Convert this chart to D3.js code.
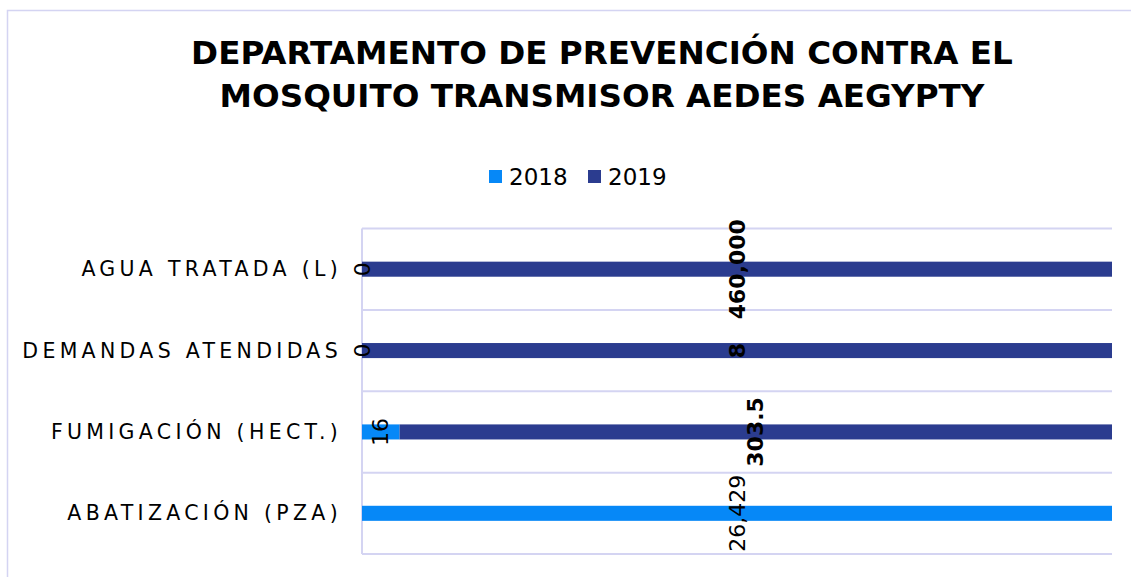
<!DOCTYPE html>
<html>
<head>
<meta charset="utf-8">
<script src="https://cdn.jsdelivr.net/npm/d3@7"></script>
<style>
  body { margin: 0; background: #fff; }
  text { font-family: "DejaVu Sans", Verdana, sans-serif; fill: #000; }
</style>
</head>
<body>
<div id="chart"></div>
<script>
// chart data
const categories = ["AGUA TRATADA (L)", "DEMANDAS ATENDIDAS", "FUMIGACIÓN (HECT.)", "ABATIZACIÓN (PZA)"];
const years = ["2018", "2019"];
const values2018 = [0, 0, 16, 26429];
const values2019 = [460000, 8, 303.5, null];
const labels2018 = ["0", "0", "16", "26,429"];
const labels2019 = ["460,000", "8", "303.5", ""];
const titleLines = ["DEPARTAMENTO DE PREVENCIÓN CONTRA EL", "MOSQUITO TRANSMISOR AEDES AEGYPTY"];

const colors = { "2018": "#0688f7", "2019": "#2b3c8f" };
const gridColor = "#d4d4f2";

const width = 1131, height = 577;
const plot = { left: 362, right: 1112, top: 228.5, bottom: 554 };

const svg = d3.select("#chart").append("svg")
    .attr("width", width)
    .attr("height", height);

// card border (only left and top visible)
svg.append("path")
    .attr("d", `M7.5,${height} V10.5 H${width}`)
    .attr("fill", "none")
    .attr("stroke", gridColor)
    .attr("stroke-width", 1.5);

// title
svg.append("text")
    .attr("x", 602)
    .attr("y", 64)
    .attr("text-anchor", "middle")
    .style("font-size", "32.6px")
    .style("font-weight", "bold")
    .selectAll("tspan")
    .data(titleLines)
    .enter().append("tspan")
    .attr("x", 602)
    .attr("dy", (d, i) => i === 0 ? 0 : 43)
    .text(d => d);

// legend
const legend = svg.append("g").attr("transform", "translate(489,170)");
const legendItem = legend.selectAll("g")
    .data(years)
    .enter().append("g")
    .attr("transform", (d, i) => `translate(${i * 99},0)`);
legendItem.append("rect")
    .attr("width", 13)
    .attr("height", 13)
    .attr("fill", d => colors[d]);
legendItem.append("text")
    .attr("x", 20)
    .attr("y", 15)
    .style("font-size", "23px")
    .text(d => d);

// stack into percentages
const rows = categories.map((c, i) => {
    const a = values2018[i] || 0, b = values2019[i] || 0;
    const total = a + b;
    return { cat: c, a: a / total, b: b / total, i };
});

const y = d3.scaleBand()
    .domain(categories)
    .range([plot.top, plot.bottom])
    .paddingInner(0.815)
    .paddingOuter(0.4075);

const x = d3.scaleLinear()
    .domain([0, 1])
    .range([plot.left, plot.right]);

// gridlines at band boundaries
const step = y.step();
const gridYs = d3.range(categories.length + 1).map(k => plot.top + k * step);
svg.append("g")
    .selectAll("line")
    .data(gridYs)
    .enter().append("line")
    .attr("x1", plot.left)
    .attr("x2", plot.right)
    .attr("y1", d => d)
    .attr("y2", d => d)
    .attr("stroke", gridColor)
    .attr("stroke-width", 2);

// left axis line
svg.append("line")
    .attr("x1", plot.left)
    .attr("x2", plot.left)
    .attr("y1", plot.top)
    .attr("y2", plot.bottom)
    .attr("stroke", gridColor)
    .attr("stroke-width", 2);

// bars
const bars = svg.append("g");
bars.selectAll("rect.s2018")
    .data(rows)
    .enter().append("rect")
    .attr("class", "s2018")
    .attr("x", d => x(0))
    .attr("y", d => y(d.cat))
    .attr("width", d => x(d.a) - x(0))
    .attr("height", y.bandwidth())
    .attr("fill", colors["2018"]);
bars.selectAll("rect.s2019")
    .data(rows)
    .enter().append("rect")
    .attr("class", "s2019")
    .attr("x", d => x(d.a))
    .attr("y", d => y(d.cat))
    .attr("width", d => x(d.a + d.b) - x(d.a))
    .attr("height", y.bandwidth())
    .attr("fill", colors["2019"]);

// category labels
svg.append("g")
    .selectAll("text")
    .data(categories)
    .enter().append("text")
    .attr("x", 342)
    .attr("y", d => y(d) + y.bandwidth() / 2)
    .attr("text-anchor", "end")
    .attr("dominant-baseline", "central")
    .style("font-size", "20.5px")
    .style("letter-spacing", "4.3px")
    .text(d => d);

// data labels, rotated
function addLabels(getX, texts, bold) {
    svg.append("g")
        .selectAll("text")
        .data(rows.filter(d => texts[d.i] !== ""))
        .enter().append("text")
        .attr("transform", d => `translate(${getX(d)},${y(d.cat) + y.bandwidth() / 2}) rotate(-90)`)
        .attr("text-anchor", "middle")
        .attr("dominant-baseline", "central")
        .style("font-size", "22px")
        .style("font-weight", bold ? "bold" : "normal")
        .text(d => texts[d.i]);
}
addLabels(d => x(d.a / 2), labels2018, false);
addLabels(d => x(d.a + d.b / 2), labels2019, true);
</script>
</body>
</html>
